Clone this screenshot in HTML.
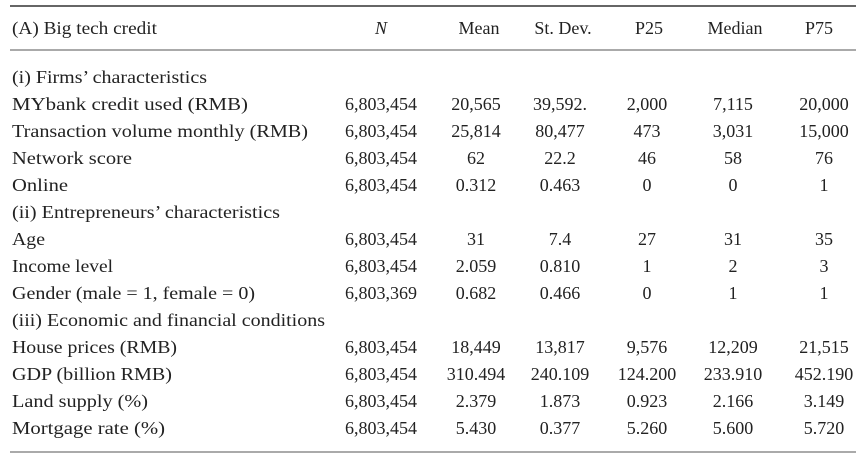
<!DOCTYPE html>
<html><head><meta charset="utf-8"><style>
html,body{margin:0;padding:0;background:#fff;}
svg{display:block;}
text{font-family:"Liberation Serif",serif;font-size:18px;fill:#222;}
</style></head><body>
<svg width="864" height="456" viewBox="0 0 864 456">
<rect width="864" height="456" fill="#fff"/>
<line x1="10" y1="6" x2="856" y2="6" stroke="#666" stroke-width="2"/>
<line x1="10" y1="50" x2="856" y2="50" stroke="#aaa" stroke-width="2"/>
<line x1="10" y1="452" x2="856" y2="452" stroke="#aaa" stroke-width="2"/>
<g>
<text x="12" y="34" textLength="145" lengthAdjust="spacingAndGlyphs">(A) Big tech credit</text>
<text x="381" y="34" text-anchor="middle" font-style="italic">N</text>
<text x="479" y="34" text-anchor="middle">Mean</text>
<text x="563" y="34" text-anchor="middle">St. Dev.</text>
<text x="649" y="34" text-anchor="middle">P25</text>
<text x="735" y="34" text-anchor="middle">Median</text>
<text x="819" y="34" text-anchor="middle">P75</text>
</g>
<g id="rows">
<text x="12" y="83" textLength="195" lengthAdjust="spacingAndGlyphs">(i) Firms’ characteristics</text>
<text x="12" y="110" textLength="236" lengthAdjust="spacingAndGlyphs">MYbank credit used (RMB)</text>
<text x="12" y="137" textLength="296" lengthAdjust="spacingAndGlyphs">Transaction volume monthly (RMB)</text>
<text x="12" y="164" textLength="120" lengthAdjust="spacingAndGlyphs">Network score</text>
<text x="12" y="191" textLength="56" lengthAdjust="spacingAndGlyphs">Online</text>
<text x="12" y="218" textLength="268" lengthAdjust="spacingAndGlyphs">(ii) Entrepreneurs’ characteristics</text>
<text x="12" y="245" textLength="33" lengthAdjust="spacingAndGlyphs">Age</text>
<text x="12" y="272" textLength="101" lengthAdjust="spacingAndGlyphs">Income level</text>
<text x="12" y="299" textLength="243" lengthAdjust="spacingAndGlyphs">Gender (male = 1, female = 0)</text>
<text x="12" y="326" textLength="313" lengthAdjust="spacingAndGlyphs">(iii) Economic and financial conditions</text>
<text x="12" y="353" textLength="165" lengthAdjust="spacingAndGlyphs">House prices (RMB)</text>
<text x="12" y="380" textLength="160" lengthAdjust="spacingAndGlyphs">GDP (billion RMB)</text>
<text x="12" y="407" textLength="136" lengthAdjust="spacingAndGlyphs">Land supply (%)</text>
<text x="12" y="434" textLength="153" lengthAdjust="spacingAndGlyphs">Mortgage rate (%)</text>
</g>
<g text-anchor="middle">
<g><text x="381" y="110">6,803,454</text><text x="476" y="110">20,565</text><text x="560" y="110">39,592.</text><text x="647" y="110">2,000</text><text x="733" y="110">7,115</text><text x="824" y="110">20,000</text></g>
<g><text x="381" y="137">6,803,454</text><text x="476" y="137">25,814</text><text x="560" y="137">80,477</text><text x="647" y="137">473</text><text x="733" y="137">3,031</text><text x="824" y="137">15,000</text></g>
<g><text x="381" y="164">6,803,454</text><text x="476" y="164">62</text><text x="560" y="164">22.2</text><text x="647" y="164">46</text><text x="733" y="164">58</text><text x="824" y="164">76</text></g>
<g><text x="381" y="191">6,803,454</text><text x="476" y="191">0.312</text><text x="560" y="191">0.463</text><text x="647" y="191">0</text><text x="733" y="191">0</text><text x="824" y="191">1</text></g>
<g><text x="381" y="245">6,803,454</text><text x="476" y="245">31</text><text x="560" y="245">7.4</text><text x="647" y="245">27</text><text x="733" y="245">31</text><text x="824" y="245">35</text></g>
<g><text x="381" y="272">6,803,454</text><text x="476" y="272">2.059</text><text x="560" y="272">0.810</text><text x="647" y="272">1</text><text x="733" y="272">2</text><text x="824" y="272">3</text></g>
<g><text x="381" y="299">6,803,369</text><text x="476" y="299">0.682</text><text x="560" y="299">0.466</text><text x="647" y="299">0</text><text x="733" y="299">1</text><text x="824" y="299">1</text></g>
<g><text x="381" y="353">6,803,454</text><text x="476" y="353">18,449</text><text x="560" y="353">13,817</text><text x="647" y="353">9,576</text><text x="733" y="353">12,209</text><text x="824" y="353">21,515</text></g>
<g><text x="381" y="380">6,803,454</text><text x="476" y="380">310.494</text><text x="560" y="380">240.109</text><text x="647" y="380">124.200</text><text x="733" y="380">233.910</text><text x="824" y="380">452.190</text></g>
<g><text x="381" y="407">6,803,454</text><text x="476" y="407">2.379</text><text x="560" y="407">1.873</text><text x="647" y="407">0.923</text><text x="733" y="407">2.166</text><text x="824" y="407">3.149</text></g>
<g><text x="381" y="434">6,803,454</text><text x="476" y="434">5.430</text><text x="560" y="434">0.377</text><text x="647" y="434">5.260</text><text x="733" y="434">5.600</text><text x="824" y="434">5.720</text></g>
</g>
</svg>
</body></html>
